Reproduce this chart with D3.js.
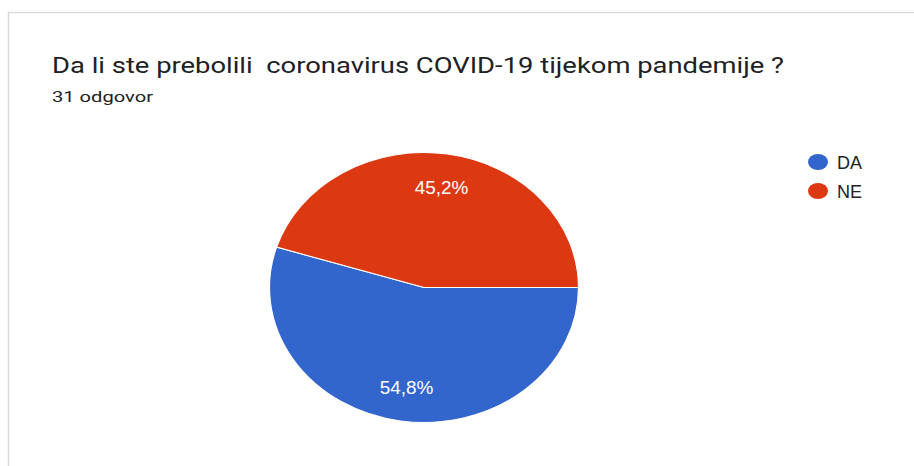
<!DOCTYPE html>
<html>
<head>
<meta charset="utf-8">
<script src="https://cdn.jsdelivr.net/npm/d3@7"></script>
<style>
  html, body { margin: 0; padding: 0; background: #fff; }
  svg { display: block; }
</style>
</head>
<body>
<svg id="chart" width="914" height="466"></svg>
<script>
const titleText = "Da li ste prebolili  coronavirus COVID-19 tijekom pandemije ?";
const subtitleText = "31 odgovor";
const categories = ["DA", "NE"];
const counts = [17, 14];
const percentLabels = ["54,8%", "45,2%"];
const colors = ["#3366cc", "#dc3912"];

const svg = d3.select("#chart");

// card border (top + left)
svg.append("path")
  .attr("d", "M8.5,466 L8.5,12.5 L914,12.5")
  .attr("fill", "none")
  .attr("stroke", "#dadada")
  .attr("stroke-width", 1.5);

svg.append("text")
  .attr("x", 52).attr("y", 73)
  .attr("font-family", "Roboto, Arial, sans-serif")
  .attr("font-size", 22.5)
  .attr("fill", "#202124")
  .attr("textLength", 732)
  .attr("lengthAdjust", "spacingAndGlyphs")
  .style("white-space", "pre")
  .text(titleText);

svg.append("text")
  .attr("x", 52).attr("y", 102)
  .attr("font-family", "Roboto, Arial, sans-serif")
  .attr("font-size", 15)
  .attr("fill", "#202124")
  .attr("textLength", 101)
  .attr("lengthAdjust", "spacingAndGlyphs")
  .text(subtitleText);

// pie (ellipse via scaling)
const cx = 424, cy = 287.5, rx = 154.5, ry = 135;
const color = d3.scaleOrdinal().domain(categories).range(colors);
const pie = d3.pie().sort(null)
  .startAngle(Math.PI / 2).endAngle(Math.PI / 2 + 2 * Math.PI);
const arcs = pie(counts).map((a, i) => Object.assign(a, { cat: categories[i], label: percentLabels[i] }));

const arc = d3.arc().innerRadius(0).outerRadius(rx);
const g = svg.append("g").attr("transform", `translate(${cx},${cy}) scale(1,${ry / rx})`);
g.selectAll("path").data(arcs).join("path")
  .attr("d", arc)
  .attr("fill", d => color(d.cat))
  .attr("stroke", "#fff")
  .attr("stroke-width", 1.2);

const labelArc = d3.arc().innerRadius(rx * 0.75).outerRadius(rx * 0.75);
svg.append("g").selectAll("text").data(arcs).join("text")
  .attr("transform", d => {
    const [x, y] = labelArc.centroid(d);
    return `translate(${cx + x},${cy + y * ry / rx}) scale(1.08,1)`;
  })
  .attr("text-anchor", "middle")
  .attr("dy", "0.36em")
  .attr("font-family", "Arial, 'Liberation Sans', sans-serif")
  .attr("font-size", 17.5)
  .attr("fill", "#fff")
  .text(d => d.label);

// legend
const legend = svg.append("g").selectAll("g").data(categories).join("g")
  .attr("transform", (d, i) => `translate(818,${162 + i * 29})`);
legend.append("ellipse")
  .attr("rx", 10).attr("ry", 8)
  .attr("fill", d => color(d));
legend.append("text")
  .attr("x", 19).attr("y", 6.5)
  .attr("font-family", "Arial, 'Liberation Sans', sans-serif")
  .attr("font-size", 18)
  .attr("fill", "#222")
  .text(d => d);
</script>
</body>
</html>
